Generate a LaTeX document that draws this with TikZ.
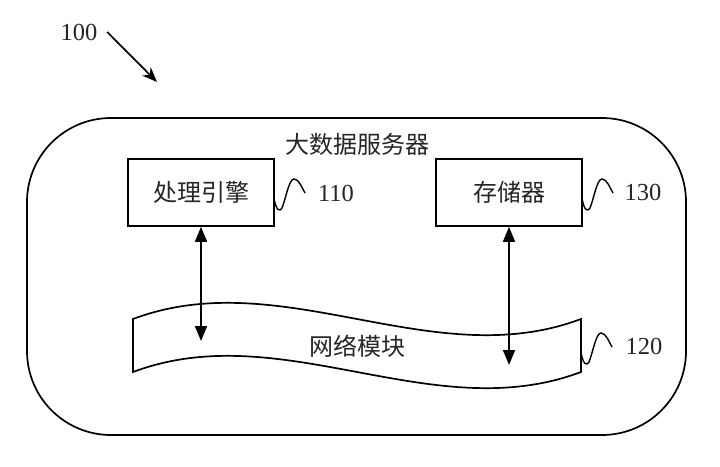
\documentclass[tikz,border=0pt]{standalone}
\usepackage{fontspec}
\setmainfont{Liberation Serif}
\newfontfamily\cjk{Noto Sans CJK SC}
\usetikzlibrary{arrows.meta}
\begin{document}
\begin{tikzpicture}[x=1pt,y=-1pt,
  line width=1.7pt,
  txt/.style={text=black!85},
  box/.style={draw, line width=1.7pt, minimum width=146pt, minimum height=67pt, inner sep=0pt, txt, font=\cjk\fontsize{24}{28}\selectfont},
  cjklab/.style={txt, font=\cjk\fontsize{24}{28}\selectfont, inner sep=0pt},
  numlab/.style={txt, font=\fontsize{24.5}{28}\selectfont, inner sep=0pt},
  dbl/.style={line width=1.7pt, {Triangle[length=15pt,width=12pt]}-{Triangle[length=15pt,width=12pt]}},
  squig/.style={line width=1.4pt},
  pics/squiggle/.style={code={\draw[squig] (0,0) .. controls (2,13) and (6,14) .. (8,10) .. controls (12,0) and (15,-19) .. (20,-19) .. controls (25,-19) and (28,-10) .. (31,-5);}}
]
\fill[white] (0,0) rectangle (720,466);
\useasboundingbox (0,0) rectangle (720,466);

% outer server container
\draw[rounded corners=84pt] (27,118) rectangle (686,435);
\node[cjklab] (title) at (357,144) {大数据服务器};

% boxes
\node[box] (pe) at (201,192.5) {处理引擎};
\node[box] (mem) at (509,192.5) {存储器};

% network tape
\draw (133,319) .. controls (282,263) and (432,375) .. (581,319) -- (581,372)
      .. controls (432,428) and (282,316) .. (133,372) -- cycle;
\node[cjklab] (net) at (357,346) {网络模块};

% arrows
\coordinate (a1) at (201,341);
\coordinate (a2) at (509,365);
\draw[dbl] (pe.south) -- (a1);
\draw[dbl] (mem.south) -- (a2);

% reference labels
\pic at (274,198) {squiggle};
\node[numlab] (n110) at (336,193) {110};
\pic at (582,198) {squiggle};
\node[numlab] (n130) at (643,192) {130};
\pic at (581,352) {squiggle};
\node[numlab] (n120) at (644,346) {120};

\node[numlab] (n100) at (79,32) {100};
\coordinate (t100) at (157,82);
\draw[line width=1.7pt, -{Stealth[length=15pt,width=12pt]}] ([xshift=9pt]n100.east) -- (t100);
\end{tikzpicture}
\end{document}
